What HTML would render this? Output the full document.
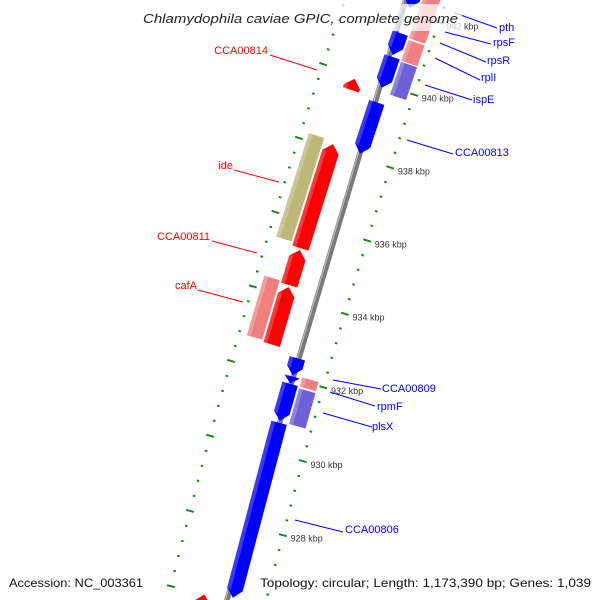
<!DOCTYPE html>
<html><head><meta charset="utf-8"><style>
html,body{margin:0;padding:0;background:#fff;width:600px;height:600px;overflow:hidden;}
svg{display:block;font-family:"Liberation Sans",sans-serif;}
</style></head><body>
<svg id="map" width="600" height="600" viewBox="0 0 600 600" xmlns="http://www.w3.org/2000/svg">
<rect x="0" y="0" width="600" height="600" fill="#ffffff"/>
<g id="ticks"></g>
<g id="backbone"></g>
<g id="genes"></g>
<g id="ticklabels"></g>
<g font-size="11">
 <g stroke="#0000ff" stroke-width="1">
  <line x1="455" y1="13" x2="497" y2="28"/>
  <line x1="445" y1="32" x2="491" y2="44"/>
  <line x1="440" y1="43" x2="486" y2="62"/>
  <line x1="435" y1="58" x2="480" y2="80"/>
  <line x1="425" y1="85" x2="472" y2="100"/>
  <line x1="407" y1="140" x2="453" y2="154"/>
  <line x1="333" y1="380" x2="381" y2="389"/>
  <line x1="330" y1="392" x2="375" y2="406"/>
  <line x1="323" y1="413" x2="372" y2="427"/>
  <line x1="295" y1="520" x2="343" y2="532"/>
 </g>
 <g fill="#0000ff" dominant-baseline="central">
  <text x="499" y="28">pth</text>
  <text x="493" y="43">rpsF</text>
  <text x="487" y="61">rpsR</text>
  <text x="481" y="78">rplI</text>
  <text x="473" y="100">ispE</text>
  <text x="455" y="153">CCA00813</text>
  <text x="382" y="389">CCA00809</text>
  <text x="377" y="407">rpmF</text>
  <text x="372" y="427">plsX</text>
  <text x="345" y="530">CCA00806</text>
 </g>
 <g stroke="#ff0000" stroke-width="1">
  <line x1="270" y1="55" x2="317" y2="70"/>
  <line x1="234" y1="170" x2="279" y2="182"/>
  <line x1="212" y1="241" x2="257" y2="253"/>
  <line x1="198" y1="290" x2="243" y2="302"/>
 </g>
 <g fill="#ff0000" dominant-baseline="central" text-anchor="end">
  <text x="268" y="51">CCA00814</text>
  <text x="233" y="166">ide</text>
  <text x="210" y="237">CCA00811</text>
  <text x="197" y="286">cafA</text>
 </g>
</g>
<rect x="140" y="4" width="322" height="27" fill="#ffffff" fill-opacity="0.72"/>
<text x="143" y="23" font-size="13" font-style="italic" fill="#222" textLength="315" lengthAdjust="spacingAndGlyphs">Chlamydophila caviae GPIC, complete genome</text>
<rect x="6" y="572" width="140" height="20" fill="#ffffff" fill-opacity="0.72"/>
<text x="9" y="587" font-size="12" fill="#111" textLength="134" lengthAdjust="spacingAndGlyphs">Accession: NC_003361</text>
<rect x="257" y="572" width="338" height="20" fill="#ffffff" fill-opacity="0.72"/>
<text x="260" y="587" font-size="12" fill="#111" textLength="331" lengthAdjust="spacingAndGlyphs">Topology: circular; Length: 1,173,390 bp; Genes: 1,039</text>
</svg>
<script>
// ---- data ----
var geneStart = [942.1, 940.8, 939.9, 938.1, 932.08, 931.86, 930.85, 926.1,
                 941.35, 940.73, 939.8, 931.85, 930.84,
                 939.6, 935.3, 934.3, 932.7, 925.3,
                 935.4, 932.75];
var geneEnd   = [943.3, 941.4, 940.75, 939.5, 932.54, 932.05, 931.85, 930.8,
                 943.3, 941.3, 940.7, 932.1, 931.8,
                 939.9, 938.12, 935.25, 934.25, 926.0,
                 938.2, 934.35];
var geneType  = ['rev','rev','rev','rev','rev','rev','rev','rev',
                 'revPink','revPink','revPurple','revPink','revPurple',
                 'fwd','fwd','fwd','fwd','fwd',
                 'fwdTan','fwdPink'];
var tickMajor = [926, 928, 930, 932, 934, 936, 938, 940, 942, 944];
var tickLabels = ['926 kbp','928 kbp','930 kbp','932 kbp','934 kbp','936 kbp','938 kbp','940 kbp','942 kbp','944 kbp'];

// ---- geometry ----
var cx = 6837.8, cy = 2248.2, R = 6822;
var NS = 'http://www.w3.org/2000/svg';
function ang(k){ return (196.59 + (k - 934) * 0.324) * Math.PI / 180; }
function P(r, k){ var t = ang(k); return [cx + r * Math.cos(t), cy + r * Math.sin(t)]; }
function pts(a){ return a.map(function(p){ return p[0].toFixed(2) + ',' + p[1].toFixed(2); }).join(' '); }

var ring = {
  rev: [-22, -6, '#0000ff', 'down'],
  revPink: [-41, -24, '#f08080', 'none'],
  revPurple: [-41, -24, '#7060d8', 'none'],
  fwd: [6, 23, '#ff0000', 'up'],
  fwdTan: [25, 41, '#bdb878', 'none'],
  fwdPink: [25, 41, '#f08080', 'none']
};

// ticks
var tg = document.getElementById('ticks');
var tickRings = [R - 47, R + 49];
for (var ri = 0; ri < tickRings.length; ri++) {
  var rr = tickRings[ri];
  for (var k = 924; k <= 944.01; k += 0.4) {
    var kk = Math.round(k * 10) / 10;
    var major = Math.abs(kk / 2 - Math.round(kk / 2)) < 0.01;
    var h = major ? 4 : 1.3;
    var p1 = P(rr - h, kk), p2 = P(rr + h, kk);
    var ln = document.createElementNS(NS, 'line');
    
    
    ln.setAttribute('x1', p1[0]); ln.setAttribute('y1', p1[1]);
    ln.setAttribute('x2', p2[0]); ln.setAttribute('y2', p2[1]);
    ln.setAttribute('stroke', '#1a8a1a');
    ln.setAttribute('stroke-width', '2');
    tg.appendChild(ln);
  }
}

// backbone
var bg = document.getElementById('backbone');
var b1 = P(R, 922), b2 = P(R, 946);
var bb = document.createElementNS(NS, 'line');


bb.setAttribute('x1', b1[0]); bb.setAttribute('y1', b1[1]);
bb.setAttribute('x2', b2[0]); bb.setAttribute('y2', b2[1]);
bb.setAttribute('stroke', '#7a7a7a'); bb.setAttribute('stroke-width', '5.5');
bg.appendChild(bb);
var c1 = P(R + 1.6, 922), c2 = P(R + 1.6, 946);
var bl = document.createElementNS(NS, 'line');


bl.setAttribute('x1', c1[0]); bl.setAttribute('y1', c1[1]);
bl.setAttribute('x2', c2[0]); bl.setAttribute('y2', c2[1]);
bl.setAttribute('stroke', '#b8b8b8'); bl.setAttribute('stroke-width', '1.2');
bg.appendChild(bl);

// genes
var gg = document.getElementById('genes');
var HL = 0.22;
for (var i = 0; i < geneStart.length; i++) {
  var s = ring[geneType[i]], a = geneStart[i], b = geneEnd[i];
  var r1 = R + s[0], r2 = R + s[1], rm = (r1 + r2) / 2;
  var h = Math.min(HL, (b - a));
  var poly;
  if (s[3] === 'up') poly = [P(r1, a), P(r2, a), P(r2, b - h), P(rm, b), P(r1, b - h)];
  else if (s[3] === 'down') poly = [P(r1, b), P(r2, b), P(r2, a + h), P(rm, a), P(r1, a + h)];
  else poly = [P(r1, a), P(r2, a), P(r2, b), P(r1, b)];
  var pg = document.createElementNS(NS, 'polygon');
  
  
  pg.setAttribute('points', pts(poly));
  pg.setAttribute('fill', s[2]);
  gg.appendChild(pg);
  var ro = Math.max(r1, r2), rw = ro - 4;
  var hp = s[3] === 'up' ? [P(rw, a), P(ro, a), P(ro, b - h), P(rw, b - h * 0.8)]
         : s[3] === 'down' ? [P(rw, b), P(ro, b), P(ro, a + h), P(rw, a + h * 0.8)]
         : [P(rw, a), P(ro, a), P(ro, b), P(rw, b)];
  var hs = document.createElementNS(NS, 'polygon');
  
  
  hs.setAttribute('points', pts(hp));
  hs.setAttribute('fill', '#ffffff');
  hs.setAttribute('fill-opacity', '0.22');
  gg.appendChild(hs);
}

// tick labels
var lg = document.getElementById('ticklabels');
for (var j = 0; j < tickMajor.length; j++) {
  var q = P(R - 55, tickMajor[j]);
  var tx = document.createElementNS(NS, 'text');
  
  
  tx.setAttribute('x', q[0]); tx.setAttribute('y', q[1] + 1.5);
  tx.setAttribute('font-size', '9');
  tx.setAttribute('fill', '#333');
  tx.setAttribute('dominant-baseline', 'central');
  tx.textContent = tickLabels[j];
  lg.appendChild(tx);
}
</script>
</body></html>
